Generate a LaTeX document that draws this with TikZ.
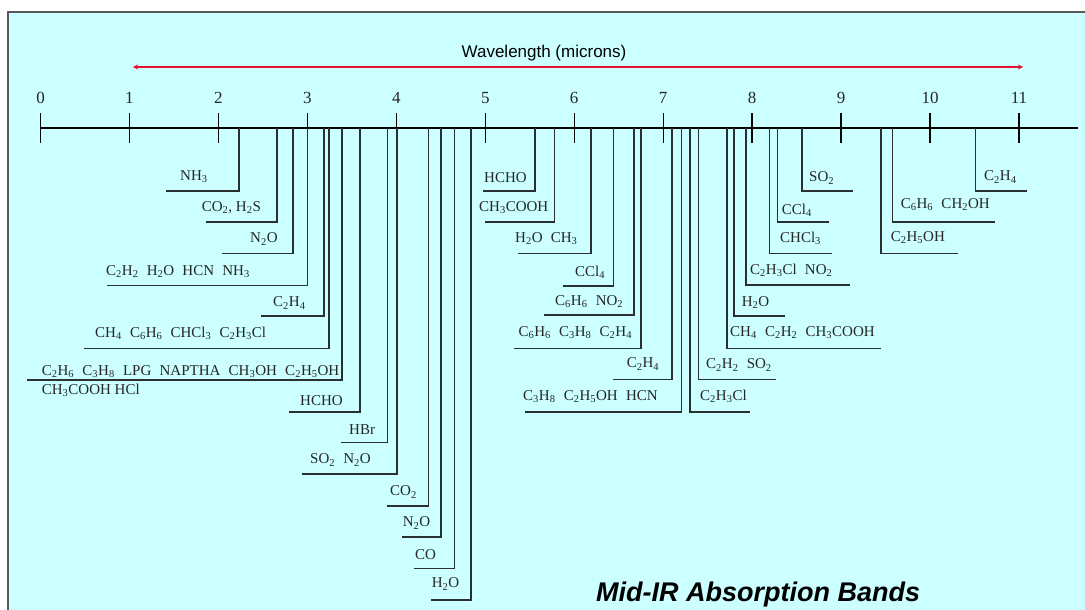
\documentclass[tikz,border=0pt]{standalone}
\usepackage{fontspec}
\setmainfont{Liberation Serif}
\newfontfamily\arialf{Liberation Sans}
\usetikzlibrary{arrows.meta}
\definecolor{bg}{HTML}{CCFFFF}
\definecolor{ln}{HTML}{2A2F2F}
\definecolor{arrc}{HTML}{E8112D}
\newcommand\sbs[1]{\textsubscript{#1}}
\newcommand\gp{\hspace{0.55em}}
\begin{document}
\begin{tikzpicture}[x=1pt,y=-1pt,
  lbl/.style={anchor=west,inner sep=0pt,font=\fontsize{15}{17}\selectfont,text=black!85},
  num/.style={inner sep=0pt,font=\fontsize{17}{19}\selectfont,text=black!85},
  band/.style={draw=ln,line width=1.6pt},
  tickln/.style={draw=black,line width=1.3pt}]
\useasboundingbox (0,0) rectangle (1085,610);
\fill[white] (0,0) rectangle (1085,610);
\fill[bg] (8,12) rectangle (1085,610);
\draw[gray!70!black,line width=2pt] (8,610) -- (8,12) -- (1085,12);

% title and arrow
\node[inner sep=0pt,font=\arialf\fontsize{17}{19}\selectfont] (wl) at (544,53) {Wavelength (microns)};
\coordinate (arL) at (133,67);
\coordinate (arR) at (1023,67);
\draw[arrc,line width=2.6pt,{Stealth[length=5pt,width=5pt]}-{Stealth[length=5pt,width=5pt]}] (arL) -- (arR);

% axis
\coordinate (ax0) at (40,128);
\coordinate (ax1) at (1078,128);
\draw[line width=1.4pt] (ax0) -- (ax1);
\foreach \k in {0,...,11}{
  \coordinate (tt\k) at ({40.5+88.95*\k},113);
  \coordinate (tb\k) at ({40.5+88.95*\k},143);
  \draw[tickln] (tt\k) -- (tb\k);
  \node[num] (n\k) at ({40.5+88.95*\k},98) {\k};
}

% bands: vx / hy / end x / label x / label y / text
\foreach \vx/\hy/\ex/\lx/\ly/\txt [count=\i] in {
  239/191/166/180/177/{NH\sbs{3}},
  276.7/222/206/201.7/208/{CO\sbs{2}, H\sbs{2}S},
  292.7/253.3/222/250/239/{N\sbs{2}O},
  307.3/285.3/107/106/272/{C\sbs{2}H\sbs{2}\gp H\sbs{2}O\gp HCN\gp NH\sbs{3}},
  324/316/260.7/273/303/{C\sbs{2}H\sbs{4}},
  328.7/348.3/84/95/333/{CH\sbs{4}\gp C\sbs{6}H\sbs{6}\gp CHCl\sbs{3}\gp C\sbs{2}H\sbs{3}Cl},
  360/411.7/289/300/401/{HCHO},
  387.3/442.3/341/349/430/{HBr},
  396.7/473.7/301.7/310/460/{SO\sbs{2}\gp N\sbs{2}O},
  428.3/506/387.3/390/492/{CO\sbs{2}},
  440.7/536.7/401.7/402.7/523/{N\sbs{2}O},
  454.3/568.3/414/415/555/{CO},
  470.7/600/431/431.7/584/{H\sbs{2}O},
  535/191/482.7/484/178/{HCHO},
  554.3/221.7/485/479/208/{CH\sbs{3}COOH},
  591/253.3/518.3/515/239/{H\sbs{2}O\gp CH\sbs{3}},
  613.3/286/562.7/575/272.3/{CCl\sbs{4}},
  634/315/544.3/555/301.7/{C\sbs{6}H\sbs{6}\gp NO\sbs{2}},
  640.7/348.3/514.3/518.3/332.7/{C\sbs{6}H\sbs{6}\gp C\sbs{3}H\sbs{8}\gp C\sbs{2}H\sbs{4}},
  672/379.3/613.3/626.7/364/{C\sbs{2}H\sbs{4}},
  681.3/411.7/525/523/396.7/{C\sbs{3}H\sbs{8}\gp C\sbs{2}H\sbs{5}OH\gp HCN},
  689.7/411.7/750/700/396/{C\sbs{2}H\sbs{3}Cl},
  698.3/379.3/776/706/365/{C\sbs{2}H\sbs{2}\gp SO\sbs{2}},
  727/348.3/881/730/332.7/{CH\sbs{4}\gp C\sbs{2}H\sbs{2}\gp CH\sbs{3}COOH},
  734/316/785/741.7/302.3/{H\sbs{2}O},
  745.7/285/850/750/270/{C\sbs{2}H\sbs{3}Cl\gp NO\sbs{2}},
  769.5/253.3/832.3/780/238.3/{CHCl\sbs{3}},
  777.5/221.7/829/781.7/210/{CCl\sbs{4}},
  802.2/191/853.3/809/178/{SO\sbs{2}},
  975.5/190.7/1026.7/984/177/{C\sbs{2}H\sbs{4}},
  892.5/221.7/995/900.7/205/{C\sbs{6}H\sbs{6}\gp CH\sbs{2}OH},
  881.2/253.3/958.3/890.7/237.7/{C\sbs{2}H\sbs{5}OH}}{
  \coordinate (a\i) at (\vx,128);
  \coordinate (b\i) at (\vx,\hy);
  \coordinate (c\i) at (\ex,\hy);
  \draw[band] (a\i) -- (b\i) -- (c\i);
  \node[lbl] (L\i) at (\lx,\ly) {\txt};
}

% the long band (hydrocarbons)
\coordinate (ha) at (341.7,128);
\coordinate (hb) at (341.7,380);
\coordinate (hc) at (27,380);
\draw[band,line width=2.3pt] (ha) -- (hb) -- (hc);
\node[lbl] (hl1) at (41.7,371.7) {C\sbs{2}H\sbs{6}\gp C\sbs{3}H\sbs{8}\gp LPG\gp NAPTHA\gp CH\sbs{3}OH\gp C\sbs{2}H\sbs{5}OH};
\node[lbl] (hl2) at (41.7,390.7) {CH\sbs{3}COOH HCl};

% footer
\node[anchor=base west,inner sep=0pt,font=\arialf\bfseries\itshape\fontsize{27}{30}\selectfont] (ttl) at (596,601.5) {Mid-IR Absorption Bands};
\end{tikzpicture}
\end{document}
